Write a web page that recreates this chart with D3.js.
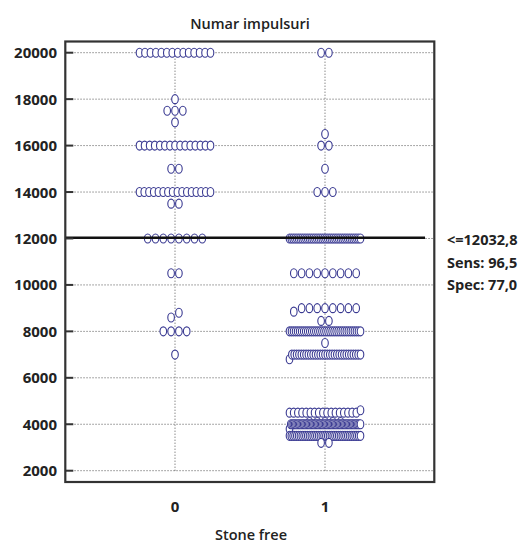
<!DOCTYPE html>
<html><head><meta charset="utf-8">
<script src="https://cdn.jsdelivr.net/npm/d3@7"></script>
<style>body{margin:0;background:#fff}</style>
</head><body><svg id="c" width="523" height="544"></svg>
<script>
const categories = ["0", "1"];
const group0Values = [20000, 18000, 17500, 17000, 16000, 15000, 14000, 13500, 12000, 10500, 8800, 8600, 8000, 7000];
const group0Counts = [14, 1, 3, 1, 15, 2, 16, 2, 8, 2, 1, 1, 4, 1];
const group1Values = [20000, 16500, 16000, 15000, 14000, 12000, 10500, 9000, 8850, 8450, 8000, 7500, 7000, 6800, 4600, 4500, 4100, 4000, 3800, 3500, 3200];
const group1Counts = [2, 1, 2, 1, 3, 40, 9, 8, 1, 2, 36, 1, 30, 1, 1, 17, 5, 55, 1, 40, 2];
const yTicks = [2000, 4000, 6000, 8000, 10000, 12000, 14000, 16000, 18000, 20000];
const criterion = 12032.8;
const annotation = ["<=12032,8", "Sens: 96,5", "Spec: 77,0"];
const chartTitle = "Numar impulsuri";
const xTitle = "Stone free";

const svg = d3.select("#c");
const L = 65.3, R = 434.3, T = 41.5, B = 482;
const y = d3.scaleLinear().domain([2000, 20000]).range([470.7, 52.7]);
const x = d3.scaleLinear().domain([0, 1]).range([175, 325]);
const FONT = "'Open Sans', 'DejaVu Sans', sans-serif";
const ink = "#222";

// gridlines
svg.append("g").selectAll("line").data(yTicks).join("line")
  .attr("x1", L).attr("x2", R).attr("y1", d => y(d)).attr("y2", d => y(d))
  .attr("stroke", "#8a8a8a").attr("stroke-width", 1).attr("stroke-dasharray", "1.5,1.5");
svg.append("g").selectAll("line").data(categories).join("line")
  .attr("x1", (d, i) => x(i)).attr("x2", (d, i) => x(i))
  .attr("y1", y(20000)).attr("y2", y(2000))
  .attr("stroke", "#555").attr("stroke-width", 1).attr("stroke-dasharray", "1,2");

// dots
function expand(vals, counts) {
  const out = [];
  vals.forEach((v, i) => { for (let k = 0; k < counts[i]; k++) out.push(v); });
  return out.sort((a, b) => a - b);
}
function makeBins(arr) {
  const res = []; let cur = null;
  arr.forEach(v => {
    if (!cur || v - cur.start > 250) { cur = { start: v, vals: [] }; res.push(cur); }
    cur.vals.push(v);
  });
  return res.sort((a, b) => b.start - a.start);
}
const groups = [expand(group0Values, group0Counts), expand(group1Values, group1Counts)];
const dots = [];
groups.forEach((g, gi) => {
  makeBins(g).forEach(bin => {
    const n = bin.vals.length;
    const s = n > 1 ? Math.min(7.8, 71 / (n - 1)) : 0;
    bin.vals.forEach((v, i) => dots.push({ cx: x(gi) + (i - (n - 1) / 2) * s, v }));
  });
});
svg.append("g").selectAll("ellipse").data(dots).join("ellipse")
  .attr("cx", d => d.cx).attr("cy", d => y(d.v))
  .attr("rx", 3.3).attr("ry", 4.5)
  .attr("fill", "#fff").attr("stroke", "#3a3a92").attr("stroke-width", 1.1);

// criterion line
svg.append("line").attr("x1", L).attr("x2", x(1.667))
  .attr("y1", y(criterion)).attr("y2", y(criterion))
  .attr("stroke", "#111").attr("stroke-width", 2.6);

// frame
svg.append("rect").attr("x", L).attr("y", T).attr("width", R - L).attr("height", B - T)
  .attr("fill", "none").attr("stroke", "#333").attr("stroke-width", 2.2);

// y ticks (inward) and labels
svg.append("g").selectAll("line").data(yTicks).join("line")
  .attr("x1", L).attr("x2", L + 8).attr("y1", d => y(d)).attr("y2", d => y(d))
  .attr("stroke", "#333").attr("stroke-width", 2);
svg.append("g").selectAll("text").data(yTicks).join("text")
  .attr("x", 57).attr("y", d => y(d) + 5.5).attr("text-anchor", "end")
  .attr("font-family", FONT).attr("font-weight", 700).attr("font-size", 15).attr("fill", ink)
  .text(d => d);

// category labels
svg.append("g").selectAll("text").data(categories).join("text")
  .attr("x", (d, i) => x(i)).attr("y", 512).attr("text-anchor", "middle")
  .attr("font-family", FONT).attr("font-weight", 700).attr("font-size", 15).attr("fill", ink)
  .text(d => d);

// titles
svg.append("text").attr("x", 250).attr("y", 29).attr("text-anchor", "middle")
  .attr("font-family", FONT).attr("font-weight", 600).attr("font-size", 14.5).attr("fill", ink)
  .text(chartTitle);
svg.append("text").attr("x", 251).attr("y", 540).attr("text-anchor", "middle")
  .attr("font-family", FONT).attr("font-weight", 600).attr("font-size", 14.5).attr("fill", ink)
  .text(xTitle);

// annotation
svg.append("g").selectAll("text").data(annotation).join("text")
  .attr("x", 447).attr("y", (d, i) => 245 + i * 22.5)
  .attr("font-family", FONT).attr("font-weight", 700).attr("font-size", 14.5).attr("fill", ink)
  .text(d => d);
</script></body></html>
